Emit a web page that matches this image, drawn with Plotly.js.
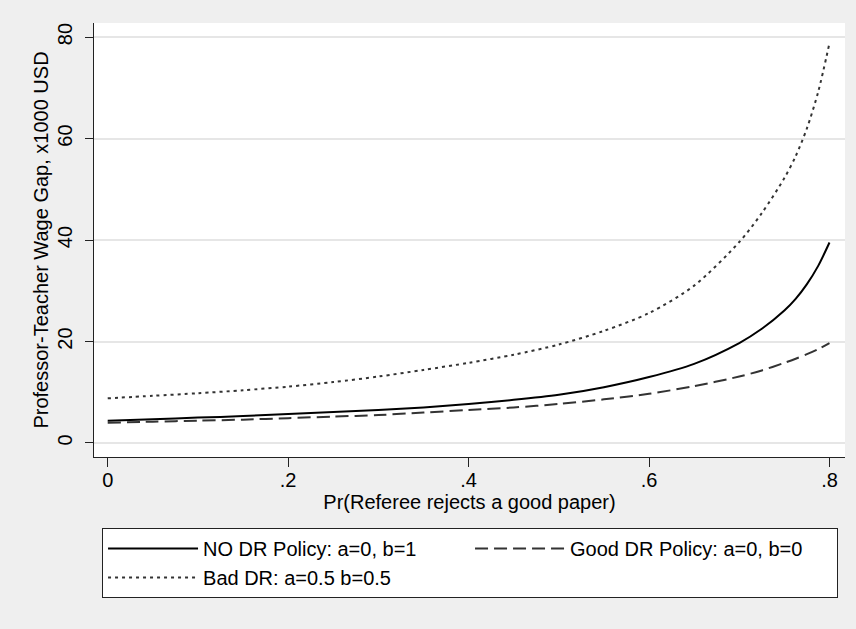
<!DOCTYPE html>
<html>
<head>
<meta charset="utf-8">
<script src="https://cdn.plot.ly/plotly-3.0.1.min.js"></script>
<style>html,body{margin:0;padding:0;background:#efefef;}</style>
</head>
<body>
<div id="chart" style="width:856px;height:629px;"></div>
<script>
// Pr(Referee rejects a good paper)
const xVals  = [0, 0.05, 0.1, 0.15, 0.2, 0.25, 0.3, 0.35, 0.4, 0.45, 0.5, 0.55, 0.6, 0.65, 0.7, 0.725, 0.75, 0.7625, 0.775, 0.7875, 0.8];
// Professor-Teacher wage gap, x1000 USD
const noDR   = [4.4, 4.7, 5.0, 5.3, 5.7, 6.1, 6.5, 7.0, 7.7, 8.5, 9.5, 11.0, 13.0, 15.6, 19.7, 22.5, 26.1, 28.4, 31.3, 34.9, 39.5];
const goodDR = [4.0, 4.2, 4.4, 4.6, 4.9, 5.2, 5.5, 6.0, 6.5, 7.0, 7.7, 8.6, 9.7, 11.2, 13.1, 14.3, 15.8, 16.6, 17.5, 18.5, 19.7];
const badDR  = [8.8, 9.3, 9.8, 10.4, 11.1, 12.0, 13.1, 14.4, 15.8, 17.4, 19.4, 22.1, 25.6, 31.0, 39.6, 45.3, 52.2, 56.5, 62.0, 69.2, 78.8];
const seriesNames = ['NO DR Policy: a=0, b=1', 'Good DR Policy: a=0, b=0', 'Bad DR: a=0.5 b=0.5'];
const xTickVals = [0, 0.2, 0.4, 0.6, 0.8];
const xTickText = ['0', '.2', '.4', '.6', '.8'];
const yTickVals = [0, 20, 40, 60, 80];
const yTickText = ['0', '20', '40', '60', '80'];

const font = 'Liberation Sans, Arial, Helvetica, sans-serif';

const traces = [
  {x: xVals, y: noDR, name: seriesNames[0], mode: 'lines',
   line: {color: '#000000', width: 2, shape: 'spline', smoothing: 0.8}},
  {x: xVals, y: goodDR, name: seriesNames[1], mode: 'lines',
   line: {color: '#333333', width: 2, dash: '13px,6px', shape: 'spline', smoothing: 0.8}},
  {x: xVals, y: badDR, name: seriesNames[2], mode: 'lines',
   line: {color: '#333333', width: 2, dash: '3px,4px', shape: 'spline', smoothing: 0.8}}
];

const layout = {
  width: 856, height: 629,
  paper_bgcolor: '#efefef', plot_bgcolor: '#ffffff',
  margin: {l: 94, r: 11, t: 23, b: 172, pad: 0},
  font: {family: font, size: 20, color: '#000000'},
  xaxis: {
    range: [-0.0152, 0.8172], tickmode: 'array', tickvals: xTickVals, ticktext: xTickText,
    ticks: 'outside', ticklen: 9, tickwidth: 1, tickcolor: '#222222', ticklabelstandoff: -4,
    showline: true, linecolor: '#222222', linewidth: 1, mirror: false,
    showgrid: false, zeroline: false, fixedrange: true,
    tickfont: {family: font, size: 20, color: '#000000'},
    title: {text: 'Pr(Referee rejects a good paper)', font: {family: font, size: 20, color: '#000000'}, standoff: 0}
  },
  yaxis: {
    range: [-2.76, 82.76], tickmode: 'array', tickvals: yTickVals, ticktext: yTickText,
    tickangle: -90,
    ticks: 'outside', ticklen: 8, tickwidth: 1, tickcolor: '#222222', ticklabelstandoff: 5,
    showline: true, linecolor: '#222222', linewidth: 1, mirror: false,
    showgrid: true, gridcolor: '#e6e6e6', gridwidth: 2, zeroline: false, fixedrange: true,
    tickfont: {family: font, size: 20, color: '#000000'},
    title: {text: 'Professor-Teacher Wage Gap, x1000 USD', font: {family: font, size: 20, color: '#000000'}, standoff: 0}
  },
  showlegend: true,
  legend: {
    orientation: 'h', x: 0.0107, xanchor: 'left', y: -0.1636, yanchor: 'top',
    bgcolor: '#ffffff', bordercolor: '#222222', borderwidth: 1,
    font: {family: font, size: 20, color: '#000000'},
    itemwidth: 90, entrywidth: 262, entrywidthmode: 'pixels',
    traceorder: 'normal', tracegroupgap: 0
  }
};

Plotly.newPlot('chart', traces, layout, {displayModeBar: false, staticPlot: true});
</script>
</body>
</html>
